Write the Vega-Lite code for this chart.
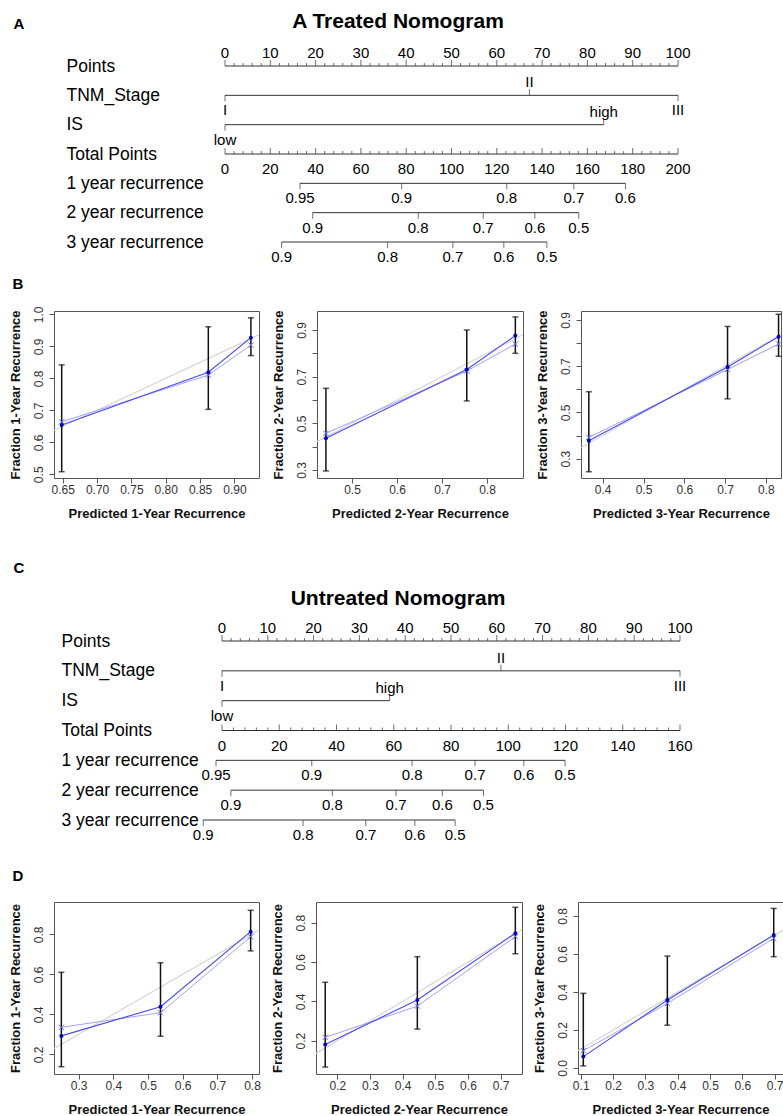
{
  "$schema": "https://vega.github.io/schema/vega-lite/v6.json",
  "background": "white",
  "padding": {"left": 8, "top": 11, "right": 0, "bottom": 0},
  "spacing": 39,
  "config": {
    "font": "Liberation Sans",
    "view": {"stroke": "#555", "strokeWidth": 1},
    "axis": {"grid": false, "domain": false, "tickColor": "#555", "tickSize": 5, "labelFontSize": 12, "labelColor": "#333", "titleFontSize": 13, "titleFontWeight": "bold", "titleColor": "#111", "labelFont": "Liberation Sans", "titleFont": "Liberation Sans"},
    "axisX": {"labelPadding": 1, "titlePadding": 12},
    "axisY": {"labelAngle": 270, "labelAlign": "center", "labelBaseline": "bottom", "labelPadding": 4, "titlePadding": 10},
    "title": {"font": "Liberation Sans", "fontWeight": "bold", "color": "black"}
  },
  "datasets": {
    "ideal": [{"v": 0}, {"v": 1}],
    "nomA_lines": [
      {"row": "Points", "from": 0, "to": 100},
      {"row": "TNM_Stage", "from": 0, "to": 100},
      {"row": "IS", "from": 0, "to": 83.6},
      {"row": "Total Points", "from": 0, "to": 100},
      {"row": "1 year recurrence", "from": 16.55, "to": 88.4},
      {"row": "2 year recurrence", "from": 19.35, "to": 78.1},
      {"row": "3 year recurrence", "from": 12.5, "to": 71.05}
    ],
    "nomA_ticks": [
      {"row": "Points", "pos": 0, "label": "0", "dir": "up", "side": "above"},
      {"row": "Points", "pos": 10, "label": "10", "dir": "up", "side": "above"},
      {"row": "Points", "pos": 20, "label": "20", "dir": "up", "side": "above"},
      {"row": "Points", "pos": 30, "label": "30", "dir": "up", "side": "above"},
      {"row": "Points", "pos": 40, "label": "40", "dir": "up", "side": "above"},
      {"row": "Points", "pos": 50, "label": "50", "dir": "up", "side": "above"},
      {"row": "Points", "pos": 60, "label": "60", "dir": "up", "side": "above"},
      {"row": "Points", "pos": 70, "label": "70", "dir": "up", "side": "above"},
      {"row": "Points", "pos": 80, "label": "80", "dir": "up", "side": "above"},
      {"row": "Points", "pos": 90, "label": "90", "dir": "up", "side": "above"},
      {"row": "Points", "pos": 100, "label": "100", "dir": "up", "side": "above"},
      {"row": "TNM_Stage", "pos": 0, "label": "I", "dir": "down", "side": "below"},
      {"row": "TNM_Stage", "pos": 67.2, "label": "II", "dir": "up", "side": "above"},
      {"row": "TNM_Stage", "pos": 100, "label": "III", "dir": "down", "side": "below"},
      {"row": "IS", "pos": 0, "label": "low", "dir": "down", "side": "below"},
      {"row": "IS", "pos": 83.6, "label": "high", "dir": "up", "side": "above"},
      {"row": "Total Points", "pos": 0, "label": "0", "dir": "up", "side": "below"},
      {"row": "Total Points", "pos": 10, "label": "20", "dir": "up", "side": "below"},
      {"row": "Total Points", "pos": 20, "label": "40", "dir": "up", "side": "below"},
      {"row": "Total Points", "pos": 30, "label": "60", "dir": "up", "side": "below"},
      {"row": "Total Points", "pos": 40, "label": "80", "dir": "up", "side": "below"},
      {"row": "Total Points", "pos": 50, "label": "100", "dir": "up", "side": "below"},
      {"row": "Total Points", "pos": 60, "label": "120", "dir": "up", "side": "below"},
      {"row": "Total Points", "pos": 70, "label": "140", "dir": "up", "side": "below"},
      {"row": "Total Points", "pos": 80, "label": "160", "dir": "up", "side": "below"},
      {"row": "Total Points", "pos": 90, "label": "180", "dir": "up", "side": "below"},
      {"row": "Total Points", "pos": 100, "label": "200", "dir": "up", "side": "below"},
      {"row": "1 year recurrence", "pos": 16.55, "label": "0.95", "dir": "down", "side": "below"},
      {"row": "1 year recurrence", "pos": 39.0, "label": "0.9", "dir": "down", "side": "below"},
      {"row": "1 year recurrence", "pos": 62.2, "label": "0.8", "dir": "down", "side": "below"},
      {"row": "1 year recurrence", "pos": 77.0, "label": "0.7", "dir": "down", "side": "below"},
      {"row": "1 year recurrence", "pos": 88.4, "label": "0.6", "dir": "down", "side": "below"},
      {"row": "2 year recurrence", "pos": 19.35, "label": "0.9", "dir": "down", "side": "below"},
      {"row": "2 year recurrence", "pos": 42.65, "label": "0.8", "dir": "down", "side": "below"},
      {"row": "2 year recurrence", "pos": 57.0, "label": "0.7", "dir": "down", "side": "below"},
      {"row": "2 year recurrence", "pos": 68.4, "label": "0.6", "dir": "down", "side": "below"},
      {"row": "2 year recurrence", "pos": 78.1, "label": "0.5", "dir": "down", "side": "below"},
      {"row": "3 year recurrence", "pos": 12.5, "label": "0.9", "dir": "down", "side": "below"},
      {"row": "3 year recurrence", "pos": 35.9, "label": "0.8", "dir": "down", "side": "below"},
      {"row": "3 year recurrence", "pos": 50.3, "label": "0.7", "dir": "down", "side": "below"},
      {"row": "3 year recurrence", "pos": 61.55, "label": "0.6", "dir": "down", "side": "below"},
      {"row": "3 year recurrence", "pos": 71.05, "label": "0.5", "dir": "down", "side": "below"}
    ],
    "nomA_minor": [
      {"row": "Points", "pos": 2}, {"row": "Points", "pos": 4}, {"row": "Points", "pos": 6}, {"row": "Points", "pos": 8},
      {"row": "Points", "pos": 12}, {"row": "Points", "pos": 14}, {"row": "Points", "pos": 16}, {"row": "Points", "pos": 18},
      {"row": "Points", "pos": 22}, {"row": "Points", "pos": 24}, {"row": "Points", "pos": 26}, {"row": "Points", "pos": 28},
      {"row": "Points", "pos": 32}, {"row": "Points", "pos": 34}, {"row": "Points", "pos": 36}, {"row": "Points", "pos": 38},
      {"row": "Points", "pos": 42}, {"row": "Points", "pos": 44}, {"row": "Points", "pos": 46}, {"row": "Points", "pos": 48},
      {"row": "Points", "pos": 52}, {"row": "Points", "pos": 54}, {"row": "Points", "pos": 56}, {"row": "Points", "pos": 58},
      {"row": "Points", "pos": 62}, {"row": "Points", "pos": 64}, {"row": "Points", "pos": 66}, {"row": "Points", "pos": 68},
      {"row": "Points", "pos": 72}, {"row": "Points", "pos": 74}, {"row": "Points", "pos": 76}, {"row": "Points", "pos": 78},
      {"row": "Points", "pos": 82}, {"row": "Points", "pos": 84}, {"row": "Points", "pos": 86}, {"row": "Points", "pos": 88},
      {"row": "Points", "pos": 92}, {"row": "Points", "pos": 94}, {"row": "Points", "pos": 96}, {"row": "Points", "pos": 98},
      {"row": "Total Points", "pos": 2}, {"row": "Total Points", "pos": 4}, {"row": "Total Points", "pos": 6}, {"row": "Total Points", "pos": 8},
      {"row": "Total Points", "pos": 12}, {"row": "Total Points", "pos": 14}, {"row": "Total Points", "pos": 16}, {"row": "Total Points", "pos": 18},
      {"row": "Total Points", "pos": 22}, {"row": "Total Points", "pos": 24}, {"row": "Total Points", "pos": 26}, {"row": "Total Points", "pos": 28},
      {"row": "Total Points", "pos": 32}, {"row": "Total Points", "pos": 34}, {"row": "Total Points", "pos": 36}, {"row": "Total Points", "pos": 38},
      {"row": "Total Points", "pos": 42}, {"row": "Total Points", "pos": 44}, {"row": "Total Points", "pos": 46}, {"row": "Total Points", "pos": 48},
      {"row": "Total Points", "pos": 52}, {"row": "Total Points", "pos": 54}, {"row": "Total Points", "pos": 56}, {"row": "Total Points", "pos": 58},
      {"row": "Total Points", "pos": 62}, {"row": "Total Points", "pos": 64}, {"row": "Total Points", "pos": 66}, {"row": "Total Points", "pos": 68},
      {"row": "Total Points", "pos": 72}, {"row": "Total Points", "pos": 74}, {"row": "Total Points", "pos": 76}, {"row": "Total Points", "pos": 78},
      {"row": "Total Points", "pos": 82}, {"row": "Total Points", "pos": 84}, {"row": "Total Points", "pos": 86}, {"row": "Total Points", "pos": 88},
      {"row": "Total Points", "pos": 92}, {"row": "Total Points", "pos": 94}, {"row": "Total Points", "pos": 96}, {"row": "Total Points", "pos": 98}
    ],
    "nomC_lines": [
      {"row": "Points", "from": 0, "to": 100},
      {"row": "TNM_Stage", "from": 0, "to": 100},
      {"row": "IS", "from": 0, "to": 36.6},
      {"row": "Total Points", "from": 0, "to": 100},
      {"row": "1 year recurrence", "from": -1.31, "to": 74.9},
      {"row": "2 year recurrence", "from": 1.94, "to": 57.1},
      {"row": "3 year recurrence", "from": -4.1, "to": 50.9}
    ],
    "nomC_ticks": [
      {"row": "Points", "pos": 0, "label": "0", "dir": "up", "side": "above"},
      {"row": "Points", "pos": 10, "label": "10", "dir": "up", "side": "above"},
      {"row": "Points", "pos": 20, "label": "20", "dir": "up", "side": "above"},
      {"row": "Points", "pos": 30, "label": "30", "dir": "up", "side": "above"},
      {"row": "Points", "pos": 40, "label": "40", "dir": "up", "side": "above"},
      {"row": "Points", "pos": 50, "label": "50", "dir": "up", "side": "above"},
      {"row": "Points", "pos": 60, "label": "60", "dir": "up", "side": "above"},
      {"row": "Points", "pos": 70, "label": "70", "dir": "up", "side": "above"},
      {"row": "Points", "pos": 80, "label": "80", "dir": "up", "side": "above"},
      {"row": "Points", "pos": 90, "label": "90", "dir": "up", "side": "above"},
      {"row": "Points", "pos": 100, "label": "100", "dir": "up", "side": "above"},
      {"row": "TNM_Stage", "pos": 0, "label": "I", "dir": "down", "side": "below"},
      {"row": "TNM_Stage", "pos": 60.9, "label": "II", "dir": "up", "side": "above"},
      {"row": "TNM_Stage", "pos": 100, "label": "III", "dir": "down", "side": "below"},
      {"row": "IS", "pos": 0, "label": "low", "dir": "down", "side": "below"},
      {"row": "IS", "pos": 36.6, "label": "high", "dir": "up", "side": "above"},
      {"row": "Total Points", "pos": 0, "label": "0", "dir": "up", "side": "below"},
      {"row": "Total Points", "pos": 12.5, "label": "20", "dir": "up", "side": "below"},
      {"row": "Total Points", "pos": 25, "label": "40", "dir": "up", "side": "below"},
      {"row": "Total Points", "pos": 37.5, "label": "60", "dir": "up", "side": "below"},
      {"row": "Total Points", "pos": 50, "label": "80", "dir": "up", "side": "below"},
      {"row": "Total Points", "pos": 62.5, "label": "100", "dir": "up", "side": "below"},
      {"row": "Total Points", "pos": 75, "label": "120", "dir": "up", "side": "below"},
      {"row": "Total Points", "pos": 87.5, "label": "140", "dir": "up", "side": "below"},
      {"row": "Total Points", "pos": 100, "label": "160", "dir": "up", "side": "below"},
      {"row": "1 year recurrence", "pos": -1.31, "label": "0.95", "dir": "down", "side": "below"},
      {"row": "1 year recurrence", "pos": 19.6, "label": "0.9", "dir": "down", "side": "below"},
      {"row": "1 year recurrence", "pos": 41.5, "label": "0.8", "dir": "down", "side": "below"},
      {"row": "1 year recurrence", "pos": 55.25, "label": "0.7", "dir": "down", "side": "below"},
      {"row": "1 year recurrence", "pos": 65.9, "label": "0.6", "dir": "down", "side": "below"},
      {"row": "1 year recurrence", "pos": 74.9, "label": "0.5", "dir": "down", "side": "below"},
      {"row": "2 year recurrence", "pos": 1.94, "label": "0.9", "dir": "down", "side": "below"},
      {"row": "2 year recurrence", "pos": 24.1, "label": "0.8", "dir": "down", "side": "below"},
      {"row": "2 year recurrence", "pos": 38.0, "label": "0.7", "dir": "down", "side": "below"},
      {"row": "2 year recurrence", "pos": 48.1, "label": "0.6", "dir": "down", "side": "below"},
      {"row": "2 year recurrence", "pos": 57.1, "label": "0.5", "dir": "down", "side": "below"},
      {"row": "3 year recurrence", "pos": -4.1, "label": "0.9", "dir": "down", "side": "below"},
      {"row": "3 year recurrence", "pos": 17.7, "label": "0.8", "dir": "down", "side": "below"},
      {"row": "3 year recurrence", "pos": 31.4, "label": "0.7", "dir": "down", "side": "below"},
      {"row": "3 year recurrence", "pos": 42.1, "label": "0.6", "dir": "down", "side": "below"},
      {"row": "3 year recurrence", "pos": 50.9, "label": "0.5", "dir": "down", "side": "below"}
    ],
    "nomC_minor": [
      {"row": "Points", "pos": 2}, {"row": "Points", "pos": 4}, {"row": "Points", "pos": 6}, {"row": "Points", "pos": 8},
      {"row": "Points", "pos": 12}, {"row": "Points", "pos": 14}, {"row": "Points", "pos": 16}, {"row": "Points", "pos": 18},
      {"row": "Points", "pos": 22}, {"row": "Points", "pos": 24}, {"row": "Points", "pos": 26}, {"row": "Points", "pos": 28},
      {"row": "Points", "pos": 32}, {"row": "Points", "pos": 34}, {"row": "Points", "pos": 36}, {"row": "Points", "pos": 38},
      {"row": "Points", "pos": 42}, {"row": "Points", "pos": 44}, {"row": "Points", "pos": 46}, {"row": "Points", "pos": 48},
      {"row": "Points", "pos": 52}, {"row": "Points", "pos": 54}, {"row": "Points", "pos": 56}, {"row": "Points", "pos": 58},
      {"row": "Points", "pos": 62}, {"row": "Points", "pos": 64}, {"row": "Points", "pos": 66}, {"row": "Points", "pos": 68},
      {"row": "Points", "pos": 72}, {"row": "Points", "pos": 74}, {"row": "Points", "pos": 76}, {"row": "Points", "pos": 78},
      {"row": "Points", "pos": 82}, {"row": "Points", "pos": 84}, {"row": "Points", "pos": 86}, {"row": "Points", "pos": 88},
      {"row": "Points", "pos": 92}, {"row": "Points", "pos": 94}, {"row": "Points", "pos": 96}, {"row": "Points", "pos": 98},
      {"row": "Total Points", "pos": 2.5}, {"row": "Total Points", "pos": 5}, {"row": "Total Points", "pos": 7.5}, {"row": "Total Points", "pos": 10},
      {"row": "Total Points", "pos": 15}, {"row": "Total Points", "pos": 17.5}, {"row": "Total Points", "pos": 20}, {"row": "Total Points", "pos": 22.5},
      {"row": "Total Points", "pos": 27.5}, {"row": "Total Points", "pos": 30}, {"row": "Total Points", "pos": 32.5}, {"row": "Total Points", "pos": 35},
      {"row": "Total Points", "pos": 40}, {"row": "Total Points", "pos": 42.5}, {"row": "Total Points", "pos": 45}, {"row": "Total Points", "pos": 47.5},
      {"row": "Total Points", "pos": 52.5}, {"row": "Total Points", "pos": 55}, {"row": "Total Points", "pos": 57.5}, {"row": "Total Points", "pos": 60},
      {"row": "Total Points", "pos": 65}, {"row": "Total Points", "pos": 67.5}, {"row": "Total Points", "pos": 70}, {"row": "Total Points", "pos": 72.5},
      {"row": "Total Points", "pos": 77.5}, {"row": "Total Points", "pos": 80}, {"row": "Total Points", "pos": 82.5}, {"row": "Total Points", "pos": 85},
      {"row": "Total Points", "pos": 90}, {"row": "Total Points", "pos": 92.5}, {"row": "Total Points", "pos": 95}, {"row": "Total Points", "pos": 97.5}
    ],
    "b1": [
      {"pred": 0.6485, "obs": 0.654, "corr": 0.664, "lo": 0.508, "hi": 0.842},
      {"pred": 0.862, "obs": 0.819, "corr": 0.81, "lo": 0.703, "hi": 0.961},
      {"pred": 0.924, "obs": 0.927, "corr": 0.904, "lo": 0.871, "hi": 0.989}
    ],
    "b1r": [{"pred": 0.7165}, {"pred": 0.861}, {"pred": 0.917}],
    "b2": [
      {"pred": 0.442, "obs": 0.436, "corr": 0.457, "lo": 0.296, "hi": 0.65},
      {"pred": 0.755, "obs": 0.731, "corr": 0.724, "lo": 0.596, "hi": 0.9},
      {"pred": 0.863, "obs": 0.876, "corr": 0.84, "lo": 0.8, "hi": 0.956}
    ],
    "b2r": [{"pred": 0.53}, {"pred": 0.754}, {"pred": 0.846}],
    "b3": [
      {"pred": 0.366, "obs": 0.378, "corr": 0.392, "lo": 0.243, "hi": 0.59},
      {"pred": 0.706, "obs": 0.697, "corr": 0.686, "lo": 0.559, "hi": 0.872},
      {"pred": 0.831, "obs": 0.828, "corr": 0.796, "lo": 0.743, "hi": 0.925}
    ],
    "b3r": [{"pred": 0.453}, {"pred": 0.704}, {"pred": 0.81}],
    "d1": [
      {"pred": 0.25, "obs": 0.292, "corr": 0.335, "lo": 0.138, "hi": 0.61},
      {"pred": 0.536, "obs": 0.438, "corr": 0.408, "lo": 0.29, "hi": 0.658},
      {"pred": 0.796, "obs": 0.813, "corr": 0.788, "lo": 0.717, "hi": 0.92}
    ],
    "d1r": [{"pred": 0.25}, {"pred": 0.526}, {"pred": 0.545}, {"pred": 0.757}],
    "d2": [
      {"pred": 0.163, "obs": 0.181, "corr": 0.217, "lo": 0.066, "hi": 0.497},
      {"pred": 0.445, "obs": 0.407, "corr": 0.376, "lo": 0.259, "hi": 0.627},
      {"pred": 0.745, "obs": 0.746, "corr": 0.729, "lo": 0.642, "hi": 0.878}
    ],
    "d2r": [{"pred": 0.163}, {"pred": 0.436}, {"pred": 0.457}, {"pred": 0.696}],
    "d3": [
      {"pred": 0.108, "obs": 0.06, "corr": 0.091, "lo": 0.011, "hi": 0.393},
      {"pred": 0.368, "obs": 0.358, "corr": 0.34, "lo": 0.225, "hi": 0.589},
      {"pred": 0.697, "obs": 0.7, "corr": 0.682, "lo": 0.586, "hi": 0.84}
    ],
    "d3r": [{"pred": 0.108}, {"pred": 0.357}, {"pred": 0.38}, {"pred": 0.64}]
  },
  "vconcat": [
    {
      "spacing": 12,
      "vconcat": [
        {
          "width": 688, "height": 176,
          "view": {"stroke": null},
          "title": {"text": "A Treated Nomogram", "fontSize": 21, "anchor": "middle", "offset": -16},
          "layer": [
            {"data": {"name": "nomA_lines"}, "mark": {"type": "rule", "color": "#333", "strokeWidth": 1},
             "encoding": {
               "x": {"field": "from", "type": "quantitative", "scale": {"domain": [0, 100], "range": [171, 624], "nice": false, "zero": false}, "axis": null},
               "x2": {"field": "to"},
               "y": {"field": "row", "type": "nominal", "scale": {"type": "point", "padding": 0, "domain": ["Points", "TNM_Stage", "IS", "Total Points", "1 year recurrence", "2 year recurrence", "3 year recurrence"]},
                     "axis": {"title": "A", "titleAngle": 0, "titleX": -41, "titleY": -43, "titleAlign": "left", "titleBaseline": "middle", "titleFontSize": 15, "titleFontWeight": "bold", "titleColor": "black", "labelAngle": 0, "labelAlign": "left", "labelBaseline": "middle", "labelPadding": -12, "labelFontSize": 17.5, "labelColor": "black", "ticks": false, "tickSize": 0, "domain": false, "labelLimit": 300}}}},
            {"data": {"name": "nomA_ticks"}, "transform": [{"filter": "datum.dir == 'up'"}], "mark": {"type": "tick", "orient": "vertical", "color": "#333", "thickness": 1, "size": 6, "yOffset": -3},
             "encoding": {"x": {"field": "pos", "type": "quantitative"}, "y": {"field": "row", "type": "nominal"}}},
            {"data": {"name": "nomA_ticks"}, "transform": [{"filter": "datum.dir == 'down'"}], "mark": {"type": "tick", "orient": "vertical", "color": "#333", "thickness": 1, "size": 6, "yOffset": 3},
             "encoding": {"x": {"field": "pos", "type": "quantitative"}, "y": {"field": "row", "type": "nominal"}}},
            {"data": {"name": "nomA_minor"}, "mark": {"type": "tick", "orient": "vertical", "color": "#333", "thickness": 1, "size": 3, "yOffset": -1.5},
             "encoding": {"x": {"field": "pos", "type": "quantitative"}, "y": {"field": "row", "type": "nominal"}}},
            {"data": {"name": "nomA_ticks"}, "transform": [{"filter": "datum.side == 'above'"}], "mark": {"type": "text", "fontSize": 15, "dy": -13, "baseline": "middle", "color": "black"},
             "encoding": {"x": {"field": "pos", "type": "quantitative"}, "y": {"field": "row", "type": "nominal"}, "text": {"field": "label"}}},
            {"data": {"name": "nomA_ticks"}, "transform": [{"filter": "datum.side == 'below'"}], "mark": {"type": "text", "fontSize": 15, "dy": 15, "baseline": "middle", "color": "black"},
             "encoding": {"x": {"field": "pos", "type": "quantitative"}, "y": {"field": "row", "type": "nominal"}, "text": {"field": "label"}}}
          ]
        },
        {
          "title": {"text": "B", "anchor": "start", "frame": "bounds", "fontSize": 15, "offset": 13, "dx": 4},
          "spacing": 11,
          "hconcat": [
            {
              "width": 205, "height": 167,
              "data": {"name": "b1"},
              "encoding": {
                "x": {"field": "pred", "type": "quantitative", "scale": {"domain": [0.6373, 0.9358], "nice": false, "zero": false}, "axis": {"values": [0.65, 0.7, 0.75, 0.8, 0.85, 0.9], "format": ".2f", "title": "Predicted 1-Year Recurrence"}},
                "y": {"field": "obs", "type": "quantitative", "scale": {"domain": [0.4884, 1.0103], "nice": false, "zero": false}, "axis": {"values": [0.5, 0.6, 0.7, 0.8, 0.9, 1.0], "format": ".1f", "title": "Fraction 1-Year Recurrence"}}
              },
              "layer": [
                {"data": {"name": "ideal"}, "mark": {"type": "line", "color": "#d6d6d6", "strokeWidth": 1.2, "clip": true}, "encoding": {"x": {"field": "v", "type": "quantitative"}, "y": {"field": "v", "type": "quantitative"}}},
                {"mark": {"type": "line", "color": "#a0a0ff", "strokeWidth": 1}, "encoding": {"y": {"field": "corr", "type": "quantitative"}}},
                {"mark": {"type": "line", "color": "#4848f0", "strokeWidth": 1.1}, "encoding": {}},
                {"mark": {"type": "rule", "color": "#111", "strokeWidth": 1.5}, "encoding": {"y": {"field": "lo", "type": "quantitative"}, "y2": {"field": "hi"}}},
                {"mark": {"type": "tick", "orient": "horizontal", "color": "#111", "thickness": 1.5, "size": 6}, "encoding": {"y": {"field": "lo", "type": "quantitative"}}},
                {"mark": {"type": "tick", "orient": "horizontal", "color": "#111", "thickness": 1.5, "size": 6}, "encoding": {"y": {"field": "hi", "type": "quantitative"}}},
                {"mark": {"type": "point", "shape": "M-1,-1L1,1M-1,1L1,-1", "filled": false, "color": "#6a6aff", "size": 28, "strokeWidth": 1, "opacity": 1}, "encoding": {"y": {"field": "corr", "type": "quantitative"}}},
                {"mark": {"type": "point", "shape": "circle", "filled": true, "color": "#0000c0", "size": 16, "opacity": 1}, "encoding": {}},
                {"data": {"name": "b1r"}, "mark": {"type": "square", "color": "black", "size": 22, "opacity": 1}, "encoding": {"y": {"datum": 1.004}}}
              ]
            },
            {
              "width": 206, "height": 167,
              "data": {"name": "b2"},
              "encoding": {
                "x": {"field": "pred", "type": "quantitative", "scale": {"domain": [0.4222, 0.88], "nice": false, "zero": false}, "axis": {"values": [0.5, 0.6, 0.7, 0.8], "format": ".1f", "title": "Predicted 2-Year Recurrence"}},
                "y": {"field": "obs", "type": "quantitative", "scale": {"domain": [0.2657, 0.9814], "nice": false, "zero": false}, "axis": {"values": [0.3, 0.4, 0.5, 0.6, 0.7, 0.8, 0.9], "format": ".1f", "labelExpr": "indexof(['0.3','0.5','0.7','0.9'], datum.label) >= 0 ? datum.label : ''", "title": "Fraction 2-Year Recurrence"}}
              },
              "layer": [
                {"data": {"name": "ideal"}, "mark": {"type": "line", "color": "#d6d6d6", "strokeWidth": 1.2, "clip": true}, "encoding": {"x": {"field": "v", "type": "quantitative"}, "y": {"field": "v", "type": "quantitative"}}},
                {"mark": {"type": "line", "color": "#a0a0ff", "strokeWidth": 1}, "encoding": {"y": {"field": "corr", "type": "quantitative"}}},
                {"mark": {"type": "line", "color": "#4848f0", "strokeWidth": 1.1}, "encoding": {}},
                {"mark": {"type": "rule", "color": "#111", "strokeWidth": 1.5}, "encoding": {"y": {"field": "lo", "type": "quantitative"}, "y2": {"field": "hi"}}},
                {"mark": {"type": "tick", "orient": "horizontal", "color": "#111", "thickness": 1.5, "size": 6}, "encoding": {"y": {"field": "lo", "type": "quantitative"}}},
                {"mark": {"type": "tick", "orient": "horizontal", "color": "#111", "thickness": 1.5, "size": 6}, "encoding": {"y": {"field": "hi", "type": "quantitative"}}},
                {"mark": {"type": "point", "shape": "M-1,-1L1,1M-1,1L1,-1", "filled": false, "color": "#6a6aff", "size": 28, "strokeWidth": 1, "opacity": 1}, "encoding": {"y": {"field": "corr", "type": "quantitative"}}},
                {"mark": {"type": "point", "shape": "circle", "filled": true, "color": "#0000c0", "size": 16, "opacity": 1}, "encoding": {}},
                {"data": {"name": "b2r"}, "mark": {"type": "square", "color": "black", "size": 22, "opacity": 1}, "encoding": {"y": {"datum": 0.973}}}
              ]
            },
            {
              "width": 200, "height": 167,
              "data": {"name": "b3"},
              "encoding": {
                "x": {"field": "pred", "type": "quantitative", "scale": {"domain": [0.3468, 0.837], "nice": false, "zero": false}, "axis": {"values": [0.4, 0.5, 0.6, 0.7, 0.8], "format": ".1f", "title": "Predicted 3-Year Recurrence"}},
                "y": {"field": "obs", "type": "quantitative", "scale": {"domain": [0.2164, 0.939], "nice": false, "zero": false}, "axis": {"values": [0.3, 0.4, 0.5, 0.6, 0.7, 0.8, 0.9], "format": ".1f", "labelExpr": "indexof(['0.3','0.5','0.7','0.9'], datum.label) >= 0 ? datum.label : ''", "title": "Fraction 3-Year Recurrence"}}
              },
              "layer": [
                {"data": {"name": "ideal"}, "mark": {"type": "line", "color": "#d6d6d6", "strokeWidth": 1.2, "clip": true}, "encoding": {"x": {"field": "v", "type": "quantitative"}, "y": {"field": "v", "type": "quantitative"}}},
                {"mark": {"type": "line", "color": "#a0a0ff", "strokeWidth": 1}, "encoding": {"y": {"field": "corr", "type": "quantitative"}}},
                {"mark": {"type": "line", "color": "#4848f0", "strokeWidth": 1.1}, "encoding": {}},
                {"mark": {"type": "rule", "color": "#111", "strokeWidth": 1.5}, "encoding": {"y": {"field": "lo", "type": "quantitative"}, "y2": {"field": "hi"}}},
                {"mark": {"type": "tick", "orient": "horizontal", "color": "#111", "thickness": 1.5, "size": 6}, "encoding": {"y": {"field": "lo", "type": "quantitative"}}},
                {"mark": {"type": "tick", "orient": "horizontal", "color": "#111", "thickness": 1.5, "size": 6}, "encoding": {"y": {"field": "hi", "type": "quantitative"}}},
                {"mark": {"type": "point", "shape": "M-1,-1L1,1M-1,1L1,-1", "filled": false, "color": "#6a6aff", "size": 28, "strokeWidth": 1, "opacity": 1}, "encoding": {"y": {"field": "corr", "type": "quantitative"}}},
                {"mark": {"type": "point", "shape": "circle", "filled": true, "color": "#0000c0", "size": 16, "opacity": 1}, "encoding": {}},
                {"data": {"name": "b3r"}, "mark": {"type": "square", "color": "black", "size": 22, "opacity": 1}, "encoding": {"y": {"datum": 0.93}}}
              ]
            }
          ]
        }
      ]
    },
    {
      "spacing": 25,
      "vconcat": [
        {
          "width": 688, "height": 179,
          "view": {"stroke": null},
          "title": {"text": "Untreated Nomogram", "fontSize": 21, "anchor": "middle", "offset": -49},
          "layer": [
            {"data": {"name": "nomC_lines"}, "mark": {"type": "rule", "color": "#333", "strokeWidth": 1},
             "encoding": {
               "x": {"field": "from", "type": "quantitative", "scale": {"domain": [0, 100], "range": [168, 626], "nice": false, "zero": false}, "axis": null},
               "x2": {"field": "to"},
               "y": {"field": "row", "type": "nominal", "scale": {"type": "point", "padding": 0, "domain": ["Points", "TNM_Stage", "IS", "Total Points", "1 year recurrence", "2 year recurrence", "3 year recurrence"]},
                     "axis": {"title": "C", "titleAngle": 0, "titleX": -41, "titleY": -74, "titleAlign": "left", "titleBaseline": "middle", "titleFontSize": 15, "titleFontWeight": "bold", "titleColor": "black", "labelAngle": 0, "labelAlign": "left", "labelBaseline": "middle", "labelPadding": -7, "labelFontSize": 17.5, "labelColor": "black", "ticks": false, "tickSize": 0, "domain": false, "labelLimit": 300}}}},
            {"data": {"name": "nomC_ticks"}, "transform": [{"filter": "datum.dir == 'up'"}], "mark": {"type": "tick", "orient": "vertical", "color": "#333", "thickness": 1, "size": 6, "yOffset": -3},
             "encoding": {"x": {"field": "pos", "type": "quantitative"}, "y": {"field": "row", "type": "nominal"}}},
            {"data": {"name": "nomC_ticks"}, "transform": [{"filter": "datum.dir == 'down'"}], "mark": {"type": "tick", "orient": "vertical", "color": "#333", "thickness": 1, "size": 6, "yOffset": 3},
             "encoding": {"x": {"field": "pos", "type": "quantitative"}, "y": {"field": "row", "type": "nominal"}}},
            {"data": {"name": "nomC_minor"}, "mark": {"type": "tick", "orient": "vertical", "color": "#333", "thickness": 1, "size": 3, "yOffset": -1.5},
             "encoding": {"x": {"field": "pos", "type": "quantitative"}, "y": {"field": "row", "type": "nominal"}}},
            {"data": {"name": "nomC_ticks"}, "transform": [{"filter": "datum.side == 'above'"}], "mark": {"type": "text", "fontSize": 15, "dy": -13, "baseline": "middle", "color": "black"},
             "encoding": {"x": {"field": "pos", "type": "quantitative"}, "y": {"field": "row", "type": "nominal"}, "text": {"field": "label"}}},
            {"data": {"name": "nomC_ticks"}, "transform": [{"filter": "datum.side == 'below'"}], "mark": {"type": "text", "fontSize": 15, "dy": 15, "baseline": "middle", "color": "black"},
             "encoding": {"x": {"field": "pos", "type": "quantitative"}, "y": {"field": "row", "type": "nominal"}, "text": {"field": "label"}}}
          ]
        },
        {
          "title": {"text": "D", "anchor": "start", "frame": "bounds", "fontSize": 15, "offset": 18, "dx": 4},
          "spacing": 9,
          "hconcat": [
            {
              "width": 205, "height": 172,
              "data": {"name": "d1"},
              "encoding": {
                "x": {"field": "pred", "type": "quantitative", "scale": {"domain": [0.2288, 0.8201], "nice": false, "zero": false}, "axis": {"values": [0.3, 0.4, 0.5, 0.6, 0.7, 0.8], "format": ".1f", "title": "Predicted 1-Year Recurrence"}},
                "y": {"field": "obs", "type": "quantitative", "scale": {"domain": [0.1015, 0.9615], "nice": false, "zero": false}, "axis": {"values": [0.2, 0.4, 0.6, 0.8], "format": ".1f", "title": "Fraction 1-Year Recurrence"}}
              },
              "layer": [
                {"data": {"name": "ideal"}, "mark": {"type": "line", "color": "#d6d6d6", "strokeWidth": 1.2, "clip": true}, "encoding": {"x": {"field": "v", "type": "quantitative"}, "y": {"field": "v", "type": "quantitative"}}},
                {"mark": {"type": "line", "color": "#a0a0ff", "strokeWidth": 1}, "encoding": {"y": {"field": "corr", "type": "quantitative"}}},
                {"mark": {"type": "line", "color": "#4848f0", "strokeWidth": 1.1}, "encoding": {}},
                {"mark": {"type": "rule", "color": "#111", "strokeWidth": 1.5}, "encoding": {"y": {"field": "lo", "type": "quantitative"}, "y2": {"field": "hi"}}},
                {"mark": {"type": "tick", "orient": "horizontal", "color": "#111", "thickness": 1.5, "size": 6}, "encoding": {"y": {"field": "lo", "type": "quantitative"}}},
                {"mark": {"type": "tick", "orient": "horizontal", "color": "#111", "thickness": 1.5, "size": 6}, "encoding": {"y": {"field": "hi", "type": "quantitative"}}},
                {"mark": {"type": "point", "shape": "M-1,-1L1,1M-1,1L1,-1", "filled": false, "color": "#6a6aff", "size": 28, "strokeWidth": 1, "opacity": 1}, "encoding": {"y": {"field": "corr", "type": "quantitative"}}},
                {"mark": {"type": "point", "shape": "circle", "filled": true, "color": "#0000c0", "size": 16, "opacity": 1}, "encoding": {}},
                {"data": {"name": "d1r"}, "mark": {"type": "square", "color": "black", "size": 22, "opacity": 1}, "encoding": {"y": {"datum": 0.951}}}
              ]
            },
            {
              "width": 206, "height": 172,
              "data": {"name": "d2"},
              "encoding": {
                "x": {"field": "pred", "type": "quantitative", "scale": {"domain": [0.1348, 0.7654], "nice": false, "zero": false}, "axis": {"values": [0.2, 0.3, 0.4, 0.5, 0.6, 0.7], "format": ".1f", "title": "Predicted 2-Year Recurrence"}},
                "y": {"field": "obs", "type": "quantitative", "scale": {"domain": [0.0307, 0.905], "nice": false, "zero": false}, "axis": {"values": [0.2, 0.4, 0.6, 0.8], "format": ".1f", "title": "Fraction 2-Year Recurrence"}}
              },
              "layer": [
                {"data": {"name": "ideal"}, "mark": {"type": "line", "color": "#d6d6d6", "strokeWidth": 1.2, "clip": true}, "encoding": {"x": {"field": "v", "type": "quantitative"}, "y": {"field": "v", "type": "quantitative"}}},
                {"mark": {"type": "line", "color": "#a0a0ff", "strokeWidth": 1}, "encoding": {"y": {"field": "corr", "type": "quantitative"}}},
                {"mark": {"type": "line", "color": "#4848f0", "strokeWidth": 1.1}, "encoding": {}},
                {"mark": {"type": "rule", "color": "#111", "strokeWidth": 1.5}, "encoding": {"y": {"field": "lo", "type": "quantitative"}, "y2": {"field": "hi"}}},
                {"mark": {"type": "tick", "orient": "horizontal", "color": "#111", "thickness": 1.5, "size": 6}, "encoding": {"y": {"field": "lo", "type": "quantitative"}}},
                {"mark": {"type": "tick", "orient": "horizontal", "color": "#111", "thickness": 1.5, "size": 6}, "encoding": {"y": {"field": "hi", "type": "quantitative"}}},
                {"mark": {"type": "point", "shape": "M-1,-1L1,1M-1,1L1,-1", "filled": false, "color": "#6a6aff", "size": 28, "strokeWidth": 1, "opacity": 1}, "encoding": {"y": {"field": "corr", "type": "quantitative"}}},
                {"mark": {"type": "point", "shape": "circle", "filled": true, "color": "#0000c0", "size": 16, "opacity": 1}, "encoding": {}},
                {"data": {"name": "d2r"}, "mark": {"type": "square", "color": "black", "size": 22, "opacity": 1}, "encoding": {"y": {"datum": 0.895}}}
              ]
            },
            {
              "width": 205, "height": 172,
              "data": {"name": "d3"},
              "encoding": {
                "x": {"field": "pred", "type": "quantitative", "scale": {"domain": [0.0916, 0.7257], "nice": false, "zero": false}, "axis": {"values": [0.1, 0.2, 0.3, 0.4, 0.5, 0.6, 0.7], "format": ".1f", "title": "Predicted 3-Year Recurrence"}},
                "y": {"field": "obs", "type": "quantitative", "scale": {"domain": [-0.0316, 0.8737], "nice": false, "zero": false}, "axis": {"values": [0, 0.2, 0.4, 0.6, 0.8], "format": ".1f", "title": "Fraction 3-Year Recurrence"}}
              },
              "layer": [
                {"data": {"name": "ideal"}, "mark": {"type": "line", "color": "#d6d6d6", "strokeWidth": 1.2, "clip": true}, "encoding": {"x": {"field": "v", "type": "quantitative"}, "y": {"field": "v", "type": "quantitative"}}},
                {"mark": {"type": "line", "color": "#a0a0ff", "strokeWidth": 1}, "encoding": {"y": {"field": "corr", "type": "quantitative"}}},
                {"mark": {"type": "line", "color": "#4848f0", "strokeWidth": 1.1}, "encoding": {}},
                {"mark": {"type": "rule", "color": "#111", "strokeWidth": 1.5}, "encoding": {"y": {"field": "lo", "type": "quantitative"}, "y2": {"field": "hi"}}},
                {"mark": {"type": "tick", "orient": "horizontal", "color": "#111", "thickness": 1.5, "size": 6}, "encoding": {"y": {"field": "lo", "type": "quantitative"}}},
                {"mark": {"type": "tick", "orient": "horizontal", "color": "#111", "thickness": 1.5, "size": 6}, "encoding": {"y": {"field": "hi", "type": "quantitative"}}},
                {"mark": {"type": "point", "shape": "M-1,-1L1,1M-1,1L1,-1", "filled": false, "color": "#6a6aff", "size": 28, "strokeWidth": 1, "opacity": 1}, "encoding": {"y": {"field": "corr", "type": "quantitative"}}},
                {"mark": {"type": "point", "shape": "circle", "filled": true, "color": "#0000c0", "size": 16, "opacity": 1}, "encoding": {}},
                {"data": {"name": "d3r"}, "mark": {"type": "square", "color": "black", "size": 22, "opacity": 1}, "encoding": {"y": {"datum": 0.863}}}
              ]
            }
          ]
        }
      ]
    }
  ]
}
